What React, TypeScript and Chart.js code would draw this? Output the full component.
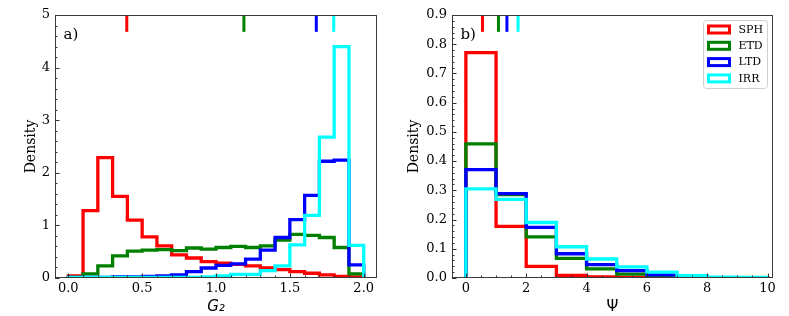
import { useEffect, useRef } from "react";
import { Chart, registerables } from "chart.js";

Chart.register(...registerables);

// ---------------- data ----------------
const CLASSES = ["SPH", "ETD", "LTD", "IRR"];
const COLORS = ["#ff0000", "#008000", "#0000ff", "#00ffff"];

// panel a) : G2 histogram, bins of width 0.1 from 0.0 to 2.0
const G2_EDGES = [0.0, 0.1, 0.2, 0.3, 0.4, 0.5, 0.6, 0.7, 0.8, 0.9, 1.0, 1.1, 1.2, 1.3, 1.4, 1.5, 1.6, 1.7, 1.8, 1.9, 2.0];
const SPH_G2 = [0.04, 1.28, 2.29, 1.55, 1.10, 0.78, 0.61, 0.44, 0.38, 0.31, 0.28, 0.26, 0.23, 0.19, 0.16, 0.12, 0.09, 0.06, 0.03, 0.02];
const ETD_G2 = [0.01, 0.08, 0.23, 0.42, 0.51, 0.53, 0.54, 0.52, 0.57, 0.55, 0.58, 0.60, 0.58, 0.61, 0.72, 0.83, 0.81, 0.77, 0.58, 0.08];
const LTD_G2 = [0.01, 0.01, 0.01, 0.02, 0.02, 0.03, 0.04, 0.06, 0.12, 0.19, 0.24, 0.27, 0.36, 0.53, 0.77, 1.11, 1.57, 2.22, 2.24, 0.25];
const IRR_G2 = [0.01, 0.01, 0.01, 0.01, 0.01, 0.01, 0.01, 0.01, 0.01, 0.02, 0.04, 0.07, 0.07, 0.14, 0.23, 0.63, 1.19, 2.68, 4.40, 0.62];
const MARK_G2 = [0.396, 1.189, 1.679, 1.797];
const G2_XTICKS = [0.0, 0.5, 1.0, 1.5, 2.0];
const G2_YTICKS = [0, 1, 2, 3, 4, 5];

// panel b) : Psi histogram, bins of width 1 from 0 to 10
const PSI_EDGES = [0, 1, 2, 3, 4, 5, 6, 7, 8, 9, 10];
const SPH_PSI = [0.771, 0.177, 0.040, 0.009, 0.004, 0.002, 0.001, 0.001, 0.0005, 0.0003];
const ETD_PSI = [0.459, 0.285, 0.141, 0.067, 0.031, 0.013, 0.005, 0.002, 0.001, 0.0005];
const LTD_PSI = [0.371, 0.289, 0.173, 0.083, 0.046, 0.025, 0.011, 0.003, 0.001, 0.0005];
const IRR_PSI = [0.305, 0.269, 0.190, 0.107, 0.065, 0.038, 0.020, 0.008, 0.003, 0.002];
const MARK_PSI = [0.55, 1.08, 1.36, 1.73];
const PSI_XTICKS = [0, 2, 4, 6, 8, 10];
const PSI_YTICKS = [0.0, 0.1, 0.2, 0.3, 0.4, 0.5, 0.6, 0.7, 0.8, 0.9];

// ---------------- helpers ----------------
const SERIF = "'DejaVu Serif', serif";
const SANS = "'DejaVu Sans', sans-serif";

function stepPoints(edges: number[], vals: number[]) {
  const pts = [{ x: edges[0], y: 0 }];
  vals.forEach((v, i) => pts.push({ x: edges[i], y: v }));
  pts.push({ x: edges[edges.length - 1], y: 0 });
  return pts;
}

type PanelCfg = {
  label: string;
  edges: number[];
  series: number[][];
  marks: number[];
  xmin: number;
  xmax: number;
  ymax: number;
  xticks: number[];
  yticks: number[];
  xMinor: number;
  yMinor: number;
  xFmt: (v: number) => string;
  yFmt: (v: number) => string;
  xTitle: string;
  xTitleFont: any;
  yWidth: number;
  yTitlePad: number;
  padRight: number;
  legend: boolean;
};

function decorPlugin(cfg: PanelCfg) {
  return {
    id: "mplDecor",
    afterDatasetsDraw(chart: any) {
      const { ctx, chartArea: a, scales } = chart;
      const x = scales.x;
      const y = scales.y;
      ctx.save();
      ctx.strokeStyle = "#333";
      ctx.lineWidth = 1;
      const isMajor = (v: number, majors: number[]) => majors.some((m) => Math.abs(m - v) < 1e-9);
      const xt = (v: number, len: number) => {
        const px = Math.round(x.getPixelForValue(v)) + 0.5;
        ctx.beginPath();
        ctx.moveTo(px, a.bottom);
        ctx.lineTo(px, a.bottom - len);
        ctx.stroke();
      };
      const yt = (v: number, len: number) => {
        const py = Math.round(y.getPixelForValue(v)) + 0.5;
        ctx.beginPath();
        ctx.moveTo(a.left, py);
        ctx.lineTo(a.left + len, py);
        ctx.stroke();
      };
      for (let k = Math.ceil(cfg.xmin / cfg.xMinor); k <= Math.floor(cfg.xmax / cfg.xMinor); k++) {
        const v = k * cfg.xMinor;
        xt(v, isMajor(v, cfg.xticks) ? 4.5 : 2.5);
      }
      for (let k = 0; k <= Math.floor(cfg.ymax / cfg.yMinor + 1e-9); k++) {
        const v = k * cfg.yMinor;
        yt(v, isMajor(v, cfg.yticks) ? 4.5 : 2.5);
      }
      // frame
      ctx.strokeStyle = "#3a3a3a";
      ctx.strokeRect(a.left + 0.5, a.top + 0.5, a.right - a.left - 1, a.bottom - a.top - 1);
      // panel label
      ctx.fillStyle = "#000";
      ctx.font = `15px ${SERIF}`;
      ctx.textBaseline = "alphabetic";
      ctx.textAlign = "left";
      ctx.fillText(cfg.label, a.left + 8.5, a.top + 24);
      // legend
      if (cfg.legend) {
        const w = 64;
        const h = 68;
        const lx = a.right - 5.5 - w;
        const ly = a.top + 5.5;
        ctx.fillStyle = "rgba(255,255,255,0.8)";
        ctx.strokeStyle = "#d0d0d0";
        ctx.lineWidth = 1;
        ctx.beginPath();
        (ctx as any).roundRect(lx, ly, w, h, 3);
        ctx.fill();
        ctx.stroke();
        ctx.font = `11px ${SERIF}`;
        ctx.textBaseline = "middle";
        CLASSES.forEach((name, i) => {
          const cy = ly + 9 + i * 16.3;
          ctx.strokeStyle = COLORS[i];
          ctx.lineWidth = 3;
          ctx.strokeRect(lx + 5, cy - 3.5, 21, 7);
          ctx.fillStyle = "#000";
          ctx.fillText(name, lx + 35, cy + 0.5);
        });
      }
      ctx.restore();
    },
  };
}

function buildConfig(cfg: PanelCfg): any {
  const hist = cfg.series.map((vals, i) => ({
    type: "line",
    label: CLASSES[i],
    data: stepPoints(cfg.edges, vals),
    borderColor: COLORS[i],
    backgroundColor: COLORS[i],
    borderWidth: 3.3,
    stepped: "before",
    fill: false,
    pointRadius: 0,
    borderJoinStyle: "miter",
    borderCapStyle: "butt",
    clip: 0,
    order: 8 - i,
  }));
  const markLen = cfg.ymax * 0.064;
  const marks = cfg.marks.map((m, i) => ({
    type: "line",
    label: CLASSES[i] + " mark",
    data: [
      { x: m, y: cfg.ymax - markLen },
      { x: m, y: cfg.ymax },
    ],
    borderColor: COLORS[i],
    borderWidth: 3,
    pointRadius: 0,
    borderCapStyle: "butt",
    clip: 0,
    order: 4 - i,
  }));
  return {
    type: "line",
    data: { datasets: [...hist, ...marks] },
    options: {
      responsive: false,
      animation: false,
      events: [],
      layout: { padding: { left: 0, top: 15, right: cfg.padRight, bottom: 0 } },
      plugins: { legend: { display: false }, tooltip: { enabled: false }, title: { display: false } },
      scales: {
        x: {
          type: "linear",
          min: cfg.xmin,
          max: cfg.xmax,
          afterBuildTicks: (s: any) => {
            s.ticks = cfg.xticks.map((v) => ({ value: v }));
          },
          afterFit: (s: any) => {
            s.height = 38;
          },
          ticks: {
            callback: (v: number) => cfg.xFmt(v),
            font: { family: SERIF, size: 13 },
            color: "#000",
            padding: 3,
            maxRotation: 0,
            autoSkip: false,
          },
          grid: { display: false, drawTicks: false },
          border: { display: false },
          title: {
            display: true,
            text: cfg.xTitle,
            font: cfg.xTitleFont,
            color: "#000",
            padding: { top: 0, bottom: 0 },
          },
        },
        y: {
          type: "linear",
          min: 0,
          max: cfg.ymax,
          afterBuildTicks: (s: any) => {
            s.ticks = cfg.yticks.map((v) => ({ value: v }));
          },
          afterFit: (s: any) => {
            s.width = cfg.yWidth;
          },
          ticks: {
            callback: (v: number) => cfg.yFmt(v),
            font: { family: SERIF, size: 13 },
            color: "#000",
            padding: 5,
            autoSkip: false,
          },
          grid: { display: false, drawTicks: false },
          border: { display: false },
          title: {
            display: true,
            text: "Density",
            font: { family: SERIF, size: 14 },
            color: "#000",
            padding: { top: cfg.yTitlePad, bottom: 0 },
          },
        },
      },
    },
    plugins: [decorPlugin(cfg)],
  };
}

const PANEL_A: PanelCfg = {
  label: "a)",
  edges: G2_EDGES,
  series: [SPH_G2, ETD_G2, LTD_G2, IRR_G2],
  marks: MARK_G2,
  xmin: -0.09,
  xmax: 2.09,
  ymax: 5,
  xticks: G2_XTICKS,
  yticks: G2_YTICKS,
  xMinor: 0.1,
  yMinor: 0.2,
  xFmt: (v) => v.toFixed(1),
  yFmt: (v) => String(v),
  xTitle: "G₂",
  xTitleFont: { family: SANS, size: 15, style: "italic" },
  yWidth: 55,
  yTitlePad: 23,
  padRight: 18,
  legend: false,
};

const PANEL_B: PanelCfg = {
  label: "b)",
  edges: PSI_EDGES,
  series: [SPH_PSI, ETD_PSI, LTD_PSI, IRR_PSI],
  marks: MARK_PSI,
  xmin: -0.46,
  xmax: 10.18,
  ymax: 0.9,
  xticks: PSI_XTICKS,
  yticks: PSI_YTICKS,
  xMinor: 0.5,
  yMinor: 0.02,
  xFmt: (v) => String(v),
  yFmt: (v) => v.toFixed(1),
  xTitle: "Ψ",
  xTitleFont: { family: SANS, size: 15 },
  yWidth: 57,
  yTitlePad: 11,
  padRight: 16,
  legend: true,
};

function Panel({ cfg, left, width }: { cfg: PanelCfg; left: number; width: number }) {
  const ref = useRef<HTMLCanvasElement | null>(null);
  useEffect(() => {
    if (!ref.current) return;
    const chart = new Chart(ref.current, buildConfig(cfg));
    return () => chart.destroy();
  }, [cfg]);
  return (
    <canvas
      ref={ref}
      width={width}
      height={316}
      style={{ position: "absolute", left, top: 0, width, height: 316 }}
    />
  );
}

export default function App() {
  return (
    <div style={{ position: "absolute", left: 0, top: 0, width: 789, height: 316, background: "#fff" }}>
      <Panel cfg={PANEL_A} left={0} width={395} />
      <Panel cfg={PANEL_B} left={395} width={394} />
    </div>
  );
}
